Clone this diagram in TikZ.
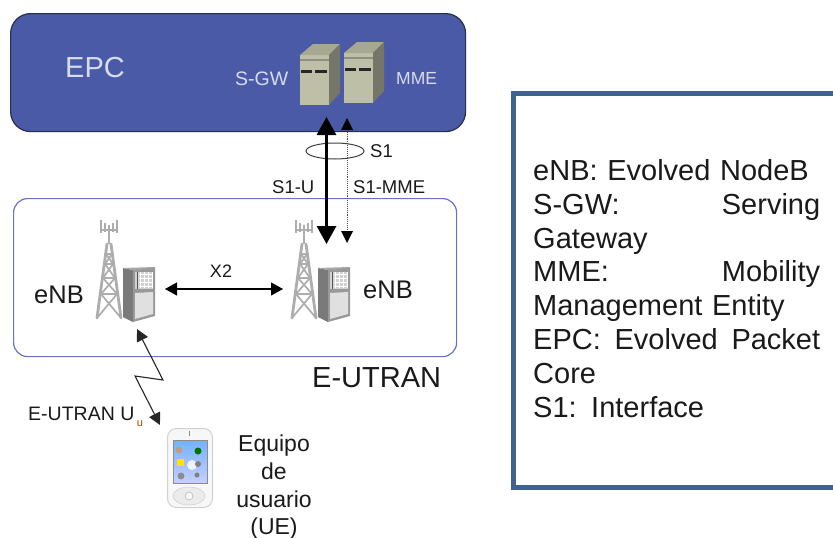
\documentclass[tikz,border=0pt]{standalone}
\usepackage{fontspec}
\setmainfont{Liberation Sans}
\usetikzlibrary{arrows.meta,shapes.geometric,calc}
\newcommand{\fs}[1]{\fontsize{#1}{#1}\selectfont}
\definecolor{epcblue}{HTML}{4A5AA6}
\definecolor{epcline}{HTML}{2A2F4A}
\definecolor{eutline}{HTML}{6B72C6}
\definecolor{boxline}{HTML}{3F6391}
\definecolor{txt}{HTML}{1A1A1A}
\definecolor{towergray}{HTML}{ADADAD}
\definecolor{srv}{HTML}{BDBFA6}
\definecolor{pale}{HTML}{D6DCEE}
\tikzset{
  x=1pt,y=-1pt,
  lbl/.style={inner sep=0pt,text=txt,font=\fs{#1}},
  wht/.style={inner sep=0pt,text=pale,font=\fs{#1}},
  bigtips/.style={{Triangle[width=19pt,length=18pt]}-{Triangle[width=19pt,length=18pt]}},
  midtips/.style={{Triangle[width=13pt,length=12pt]}-{Triangle[width=13pt,length=12pt]}},
  serverpic/.pic={
    \fill[srv] (0,0) -- (29,0) -- (29,50) -- (0,50) -- cycle;
    \fill[srv!88!black] (0,0) -- (13,-11) -- (40,-11) -- (29,0) -- cycle;
    \fill[srv!62!black] (29,0) -- (40,-11) -- (40,38) -- (29,50) -- cycle;
    \fill[srv!75!black] (0,4) rectangle (29,6);
    \fill[black!85] (1,15) rectangle (12,18);
    \fill[black!85] (15,15) rectangle (27,18);
  },
  towerpic/.pic={
    \begin{scope}[draw=towergray,line width=2pt]
      \draw (-8,0) -- (-8,13) (8,0) -- (8,13) (-8,10) -- (8,10);
      \draw[line width=1.5pt] (-4,3) -- (-4,12) (4,3) -- (4,12);
      \draw[line width=2.4pt] (0,5) -- (0,24);
      \draw[line width=2.8pt,line cap=round] (-2,24) -- (-12,98) (2,24) -- (12,98);
      \draw[line width=1.7pt] (-3,34) -- (3,34) -- (-4,44) -- (4,44) -- (-6,58) -- (6,58) -- (-8,74) -- (8,74) -- (-12,98);
      \draw[line width=1.7pt] (3,34) -- (-3,34) -- (4,44) -- (-4,44) -- (6,58) -- (-6,58) -- (8,74) -- (-8,74) -- (12,98);
    \end{scope}
    \fill[black!52] (14,48) -- (24,50) -- (24,102) -- (14,97) -- cycle;
    \fill[black!35] (14,48) -- (46,47) -- (46,49) -- (24,50) -- cycle;
    \fill[black!40] (24,50) -- (46,48) -- (46,96) -- (24,102) -- cycle;
    \fill[black!12] (26,73) -- (44,72) -- (44,94) -- (26,99) -- cycle;
    \fill[black!18] (26,52) rectangle (44,69);
    \foreach \gy in {54,58,62,66}{\draw[white,line width=.8pt] (30,\gy) -- (44,\gy);}
    \foreach \gx in {31,35,39,43}{\draw[white,line width=.8pt] (\gx,52) -- (\gx,68);}
    \draw[black!65,line width=1pt] (28,52) -- (28,69);
  }
}
\begin{document}
\begin{tikzpicture}
\useasboundingbox (0,0) rectangle (833,538);
\fill[white] (0,0) rectangle (833,538);

% EPC cloud and E-UTRAN frame
\node[draw=epcline,fill=epcblue,line width=1.2pt,rounded corners=20pt,minimum width=455pt,minimum height=118pt,inner sep=0pt,anchor=north west] (epc) at (10,13) {};
\node[draw=eutline,line width=1.2pt,rounded corners=14pt,minimum width=443pt,minimum height=158pt,inner sep=0pt,anchor=north west] (eutran) at (13,198) {};

% Servers
\pic at (300,55) {serverpic};
\pic at (344,53) {serverpic};

% Labels in EPC
\node[wht=29,anchor=west] (lepc) at (65,68) {EPC};
\node[wht=19.5,anchor=west] (lsgw) at (235,79) {S-GW};
\node[wht=17.5,anchor=west] (lmme) at (396,78) {MME};

% Towers
\pic at (109,220) {towerpic};
\pic at (304,220) {towerpic};

% S1 loop
\node[draw=black!75,line width=1pt,ellipse,minimum width=58pt,minimum height=16pt,inner sep=0pt] (loop) at (335,151) {};
\node[lbl=18.5,anchor=west] (ls1) at (370,151) {S1};
\node[lbl=18.5,anchor=west] (ls1u) at (272,187) {S1-U};
\node[lbl=18.5,anchor=west] (ls1m) at (353,187) {S1-MME};

% S1 connectors
\coordinate (uT) at (326.5,117);
\coordinate (uB) at (326.5,244);
\coordinate (mT) at (347,118);
\coordinate (mB) at (347,243);
\draw[line width=3pt,bigtips] (uT) -- (uB);
\draw[black!70,line width=.9pt,densely dotted] ($(mT)+(0,10)$) -- ($(mB)+(0,-10)$);
\fill[black] (mT) -- ++(6,12) -- ++(-12,0) -- cycle;
\fill[black] (mB) -- ++(6,-12) -- ++(-12,0) -- cycle;

% X2
\coordinate (xL) at (165,289);
\coordinate (xR) at (283,289);
\draw[black,line width=1.2pt,midtips] (xL) -- (xR);
\node[lbl=18] (lx2) at (221,271) {X2};

% eNB and E-UTRAN labels
\node[lbl=25.5,anchor=base west] (enb1) at (34,303) {eNB};
\node[lbl=25.5,anchor=base west] (enb2) at (363,298) {eNB};
\node[lbl=29,anchor=base west] (leut) at (312,387) {E-UTRAN};

% Radio link
\coordinate (rT) at (137,329);
\coordinate (r1) at (163,380);
\coordinate (r2) at (135,376);
\coordinate (rB) at (160,425);
\draw[black!85,line width=1.1pt,{Triangle[width=12pt,length=12pt]}-{Triangle[width=12pt,length=12pt]}] (rT) -- (r1) -- (r2) -- (rB);
\node[lbl=19.5,anchor=west] (luu) at (28,414) {E-UTRAN U};
\node[inner sep=0pt,text=orange!60!black,font=\fs{11}] (luus) at (140,424) {u};

% Phone
\node[draw=black!18,line width=1pt,fill=black!3,rounded corners=9pt,minimum width=45pt,minimum height=79pt,inner sep=0pt,anchor=north west] (phone) at (167,428) {};
\node[draw=black!45,top color=cyan!45!blue!55!white,bottom color=cyan!15!blue!22!white,minimum width=34pt,minimum height=43pt,inner sep=0pt,anchor=north west] (screen) at (173,440) {};
\fill[orange!50!black!50!white] (179,450) circle (3.5pt);
\fill[green!45!black] (198,451) circle (3.5pt);
\fill[yellow!85!orange] (177,459) rectangle (184,466);
\fill[white,opacity=.8] (192,465) circle (5pt);
\fill[black!50] (198,464) circle (3pt);
\fill[black!45] (181,476) circle (3.5pt);
\fill[black!50] (197,475) circle (2.5pt);
\node[draw=black!22,fill=black!8,ellipse,minimum width=32pt,minimum height=18pt,inner sep=0pt] (pad) at (189,496) {};
\node[draw=black!35,fill=black!3,circle,minimum size=8pt,inner sep=0pt] (padc) at (189,496) {};
\draw[black!45,line width=.8pt] (189,431) -- (189,436);

% UE label
\node[lbl=23,anchor=base] (ue1) at (274,451) {Equipo};
\node[lbl=23,anchor=base] (ue2) at (274,479) {de};
\node[lbl=23,anchor=base] (ue3) at (274,507) {usuario};
\node[lbl=23,anchor=base] (ue4) at (274,534) {(UE)};

% Legend box (its right side runs off the page)
\begin{scope}
\clip (0,0) rectangle (833,538);
\node[draw=boxline,line width=5pt,minimum width=334pt,minimum height=394pt,inner sep=0pt,anchor=north west] (legend) at (511,91) {};
\end{scope}
\node[anchor=north west,inner sep=0pt,text width=287pt,text=txt,font=\fontsize{29}{33.9}\selectfont,align=left] (legtxt) at (533,159) {%
eNB: Evolved NodeB\\
S-GW:\hfill Serving\\
Gateway\\
MME:\hfill Mobility\\
Management Entity\\
EPC:\hfill Evolved\hfill Packet\\
Core\\
S1: Interface};
\end{tikzpicture}
\end{document}
